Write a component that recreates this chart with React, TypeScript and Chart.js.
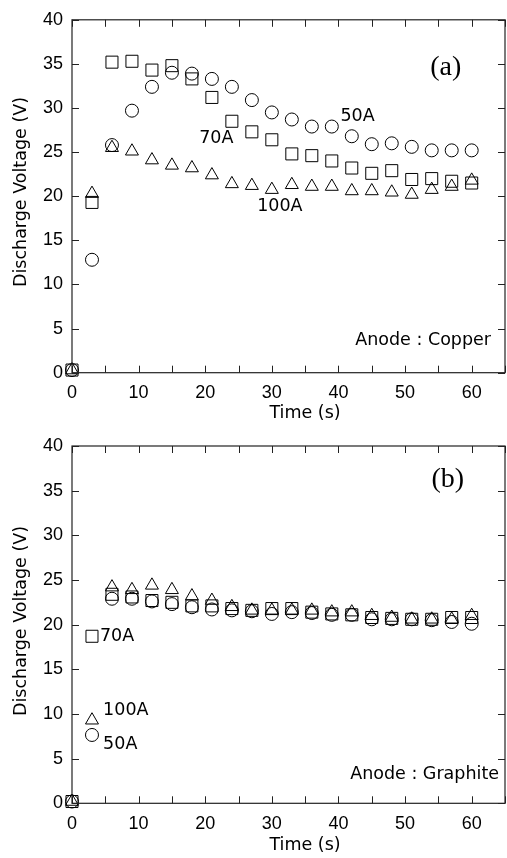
import React, { useEffect, useRef } from "react";
import { Chart, registerables } from "chart.js";

Chart.register(...registerables);

// ---- data ----
const timeS = [0, 3, 6, 9, 12, 15, 18, 21, 24, 27, 30, 33, 36, 39, 42, 45, 48, 51, 54, 57, 60];

// (a) Anode : Copper
const copper50A = [0.3, 12.8, 25.8, 29.7, 32.4, 34.0, 33.9, 33.3, 32.4, 30.9, 29.5, 28.7, 27.9, 27.9, 26.8, 25.9, 26.0, 25.6, 25.2, 25.2, 25.2];
const copper70A = [0.3, 19.3, 35.2, 35.3, 34.3, 34.8, 33.3, 31.2, 28.5, 27.3, 26.4, 24.8, 24.6, 24.0, 23.2, 22.6, 22.9, 21.9, 22.0, 21.7, 21.5];
const copper100A = [0.3, 20.3, 25.5, 25.1, 24.1, 23.5, 23.2, 22.4, 21.4, 21.2, 20.75, 21.3, 21.1, 21.1, 20.6, 20.6, 20.45, 20.2, 20.75, 21.1, 21.8];

// (b) Anode : Graphite
const graphite50A = [0.2, 7.65, 22.9, 22.9, 22.6, 22.3, 21.95, 21.7, 21.6, 21.5, 21.2, 21.4, 21.3, 21.1, 21.1, 20.6, 20.6, 20.6, 20.5, 20.3, 20.1];
const graphite70A = [0.2, 18.7, 23.4, 23.1, 22.7, 22.5, 22.1, 22.1, 21.8, 21.6, 21.8, 21.8, 21.4, 21.2, 21.1, 20.8, 20.7, 20.6, 20.6, 20.8, 20.8];
const graphite100A = [0.2, 9.3, 24.2, 23.9, 24.4, 23.9, 23.2, 22.7, 22.0, 21.6, 21.6, 21.6, 21.6, 21.4, 21.4, 21.0, 20.8, 20.6, 20.6, 20.6, 21.0];

const xMin = 0;
const xMax = 65;
const xStep = 5;
const xLabelStep = 10;
const yMin = 0;
const yMax = 40;
const yStep = 5;

const seriesNames = ["50A", "70A", "100A"];

const xTitle = "Time (s)";
const yTitle = "Discharge Voltage (V)";

type Note = { text: string; x: number; y: number; align: CanvasTextAlign; font: string };

const TEXT_FONT = "17.5px 'DejaVu Sans'";
const PANEL_FONT = "28px 'Liberation Serif'";

const notesA: Note[] = [
  { text: "(a)", x: 56.1, y: 34.6, align: "center", font: PANEL_FONT },
  { text: "50A", x: 40.3, y: 29.0, align: "left", font: TEXT_FONT },
  { text: "70A", x: 19.1, y: 26.6, align: "left", font: TEXT_FONT },
  { text: "100A", x: 27.8, y: 18.8, align: "left", font: TEXT_FONT },
  { text: "Anode : Copper", x: 62.9, y: 3.7, align: "right", font: TEXT_FONT },
];

const notesB: Note[] = [
  { text: "(b)", x: 56.4, y: 36.2, align: "center", font: PANEL_FONT },
  { text: "70A", x: 4.2, y: 18.7, align: "left", font: TEXT_FONT },
  { text: "100A", x: 4.67, y: 10.4, align: "left", font: TEXT_FONT },
  { text: "50A", x: 4.67, y: 6.6, align: "left", font: TEXT_FONT },
  { text: "Anode : Graphite", x: 64.1, y: 3.2, align: "right", font: TEXT_FONT },
];

const pointStyles = ["circle", "rect", "triangle"];
const pointRadii = [6.5, 8.5, 7.5];

const PAGE_W = 507;
const CANVAS_W = 520; // a little wider than the page; the overflow is hidden

type Box = { left: number; right: number; top: number; bottom: number };

function makeChart(
  canvas: HTMLCanvasElement,
  series: number[][],
  notes: Note[],
  target: Box,
  xTitleY: number,
  yTitleY: number
) {
  const lay = { top: target.top, right: canvas.width - target.right, yWidth: target.left, xHeight: canvas.height - target.bottom };

  const framePlugin = {
    id: "frameAndNotes",
    afterDraw(chart: any) {
      const ctx = chart.ctx as CanvasRenderingContext2D;
      const a = chart.chartArea;
      const xs = chart.scales.x;
      const ys = chart.scales.y;
      ctx.save();
      ctx.strokeStyle = "#222";
      ctx.lineWidth = 1.2;
      ctx.strokeRect(a.left, a.top, a.right - a.left, a.bottom - a.top);
      ctx.lineWidth = 1;
      ctx.beginPath();
      const tl = 7;
      xs.ticks.forEach((t: any) => {
        const px = Math.round(xs.getPixelForValue(t.value)) + 0.5;
        ctx.moveTo(px, a.bottom);
        ctx.lineTo(px, a.bottom - tl);
        ctx.moveTo(px, a.top);
        ctx.lineTo(px, a.top + tl);
      });
      ys.ticks.forEach((t: any) => {
        const py = Math.round(ys.getPixelForValue(t.value)) + 0.5;
        ctx.moveTo(a.left, py);
        ctx.lineTo(a.left + tl, py);
        ctx.moveTo(a.right, py);
        ctx.lineTo(a.right - tl, py);
      });
      ctx.stroke();

      ctx.fillStyle = "#000";
      ctx.textBaseline = "middle";
      notes.forEach((n) => {
        ctx.font = n.font;
        ctx.textAlign = n.align;
        ctx.fillText(n.text, xs.getPixelForValue(n.x), ys.getPixelForValue(n.y));
      });

      ctx.font = TEXT_FONT;
      ctx.textAlign = "center";
      ctx.fillText(xTitle, 305, xTitleY);
      ctx.save();
      ctx.translate(21, yTitleY);
      ctx.rotate(-Math.PI / 2);
      ctx.fillText(yTitle, 0, 0);
      ctx.restore();
      ctx.restore();
    },
  };

  const chart: any = new Chart(canvas, {
    type: "scatter",
    data: {
      datasets: series.map((vals, i) => ({
        label: seriesNames[i],
        data: timeS.map((t, j) => ({ x: t, y: vals[j] })),
        pointStyle: pointStyles[i] as any,
        pointRadius: pointRadii[i],
        pointHoverRadius: pointRadii[i],
        pointBorderWidth: 1,
        borderColor: "#000",
        backgroundColor: "rgba(0,0,0,0)",
        showLine: false,
        clip: false as any,
      })),
    },
    options: {
      responsive: false,
      animation: false,
      events: [],
      layout: { padding: { top: lay.top, right: lay.right, left: 0, bottom: 0 } },
      plugins: {
        legend: { display: false },
        tooltip: { enabled: false },
        title: { display: false },
      },
      scales: {
        x: {
          type: "linear",
          min: xMin,
          max: xMax,
          grid: { display: false, drawTicks: false },
          border: { display: false },
          afterFit: (s: any) => {
            s.height = lay.xHeight;
          },
          ticks: {
            stepSize: xStep,
            autoSkip: false,
            maxRotation: 0,
            padding: 10,
            color: "#000",
            font: { family: "'Liberation Sans'", size: 18 },
            callback: (v: any) => (Number(v) % xLabelStep === 0 && Number(v) <= 60 ? String(v) : ""),
          },
        },
        y: {
          type: "linear",
          min: yMin,
          max: yMax,
          grid: { display: false, drawTicks: false },
          border: { display: false },
          afterFit: (s: any) => {
            s.width = lay.yWidth;
          },
          ticks: {
            stepSize: yStep,
            padding: 9,
            color: "#000",
            font: { family: "'Liberation Sans'", size: 18 },
          },
        },
      },
    },
    plugins: [framePlugin],
  });

  for (let k = 0; k < 4; k++) {
    const a = chart.chartArea;
    const dTop = target.top - a.top;
    const dRight = a.right - target.right;
    const dLeft = target.left - a.left;
    const dBottom = a.bottom - target.bottom;
    if (Math.abs(dTop) + Math.abs(dRight) + Math.abs(dLeft) + Math.abs(dBottom) < 0.3) break;
    lay.top = Math.max(0, lay.top + dTop);
    lay.right = Math.max(0, lay.right + dRight);
    lay.yWidth += dLeft;
    lay.xHeight += dBottom;
    chart.options.layout.padding = { top: lay.top, right: lay.right, left: 0, bottom: 0 };
    chart.update();
  }
  return chart;
}

export default function App() {
  const refA = useRef<HTMLCanvasElement>(null);
  const refB = useRef<HTMLCanvasElement>(null);

  useEffect(() => {
    const cA = makeChart(
      refA.current!,
      [copper50A, copper70A, copper100A],
      notesA,
      { left: 72, right: 505, top: 16, bottom: 372.7 },
      413,
      192
    );
    const cB = makeChart(
      refB.current!,
      [graphite50A, graphite70A, graphite100A],
      notesB,
      { left: 72, right: 505, top: 446 - 425, bottom: 803.3 - 425 },
      845 - 425,
      621 - 425
    );
    return () => {
      cA.destroy();
      cB.destroy();
    };
  }, []);

  return (
    <div style={{ position: "absolute", left: 0, top: 0, width: PAGE_W, height: 858, background: "#fff", overflow: "hidden" }}>
      <canvas ref={refA} width={CANVAS_W} height={425} style={{ position: "absolute", left: 0, top: 0, display: "block" }} />
      <canvas ref={refB} width={CANVAS_W} height={433} style={{ position: "absolute", left: 0, top: 425, display: "block" }} />
    </div>
  );
}
